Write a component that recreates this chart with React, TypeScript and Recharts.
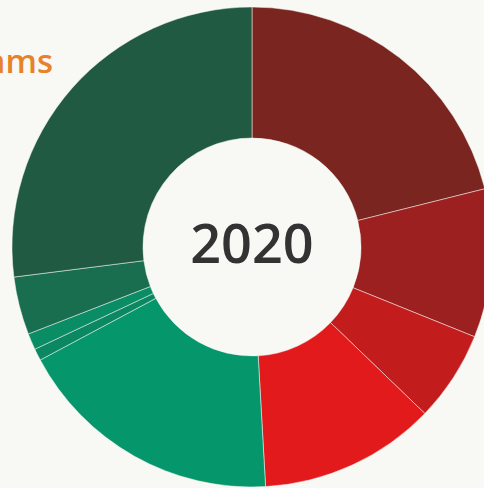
import { PieChart, Pie, Cell } from 'recharts'

const parties = ['A', 'B', 'C', 'D', 'E', 'F', 'G', 'H', 'I']
const shares = [21.1, 10.0, 6.1, 11.9, 18.1, 0.8, 1.1, 3.9, 27.0]
const colors = [
  '#7a251f',
  '#9c2020',
  '#c21c1d',
  '#e31a1c',
  '#05966b',
  '#0b8862',
  '#0a8d64',
  '#1a6e50',
  '#205a42',
]
const year = '2020'
const titleTail = 'ams'

const data = parties.map((name, i) => ({ name, value: shares[i] }))

export default function App() {
  return (
    <div
      style={{
        position: 'absolute',
        top: 0,
        left: 0,
        width: 484,
        height: 488,
        background: '#f8f8f4',
        overflow: 'hidden',
      }}
    >
      <PieChart width={484} height={488} margin={{ top: 0, right: 0, bottom: 0, left: 0 }}>
        <text
          x={53}
          y={73}
          textAnchor="end"
          fill="#e8822a"
          fontSize={33}
          fontWeight={600}
          fontFamily="'Open Sans', sans-serif"
        >
          {titleTail}
        </text>
        <Pie
          data={data}
          dataKey="value"
          cx={252}
          cy={247}
          innerRadius={109}
          outerRadius={240}
          startAngle={90}
          endAngle={-270}
          stroke="#f8f8f4"
          strokeWidth={0.5}
          isAnimationActive={false}
        >
          {data.map((d, i) => (
            <Cell key={d.name} fill={colors[i]} />
          ))}
        </Pie>
        <text
          x={252}
          y={263}
          textAnchor="middle"
          fill="#333333"
          fontSize={54}
          fontWeight={600}
          fontFamily="'Open Sans', sans-serif"
        >
          {year}
        </text>
      </PieChart>
    </div>
  )
}
